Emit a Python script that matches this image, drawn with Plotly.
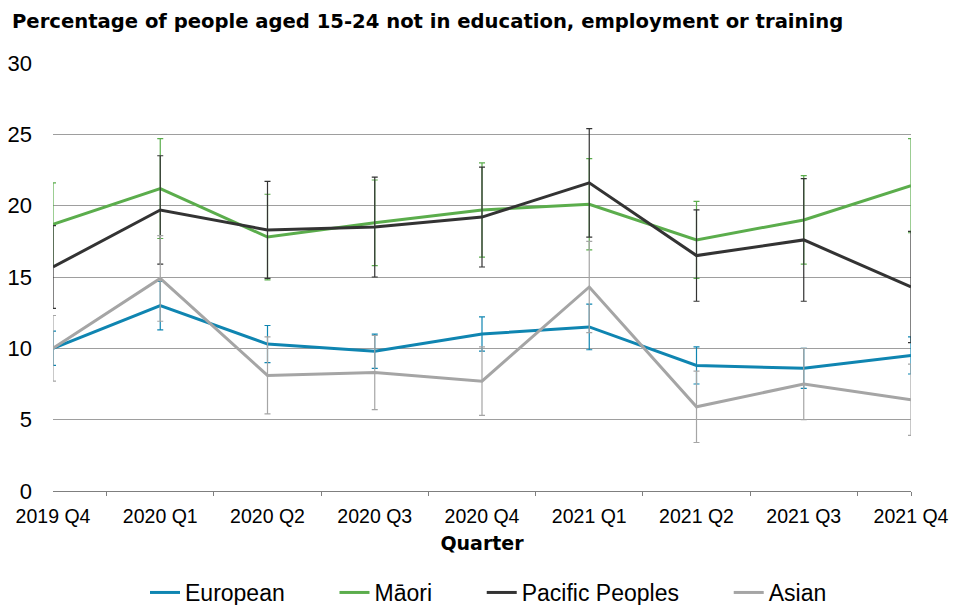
import plotly.graph_objects as go

quarters = ["2019 Q4", "2020 Q1", "2020 Q2", "2020 Q3", "2020 Q4",
            "2021 Q1", "2021 Q2", "2021 Q3", "2021 Q4"]

european = [10.0, 13.0, 10.3, 9.8, 11.0, 11.5, 8.8, 8.6, 9.5]
european_err = [1.2, 1.7, 1.3, 1.2, 1.2, 1.6, 1.3, 1.4, 1.3]

maori = [18.7, 21.2, 17.8, 18.8, 19.7, 20.1, 17.6, 19.0, 21.4]
maori_err = [2.9, 3.5, 3.0, 3.0, 3.3, 3.2, 2.7, 3.1, 3.3]

pacific = [15.7, 19.7, 18.3, 18.5, 19.2, 21.6, 16.5, 17.6, 14.3]
pacific_err = [2.9, 3.8, 3.4, 3.5, 3.5, 3.8, 3.2, 4.3, 3.9]

asian = [10.0, 14.9, 8.1, 8.3, 7.7, 14.3, 5.9, 7.5, 6.4]
asian_err = [2.3, 3.0, 2.7, 2.6, 2.4, 3.2, 2.5, 2.5, 2.5]

series = [
    ("European", european, european_err, "#0F85B1"),
    ("Māori", maori, maori_err, "#5BAD4C"),
    ("Pacific Peoples", pacific, pacific_err, "#333333"),
    ("Asian", asian, asian_err, "#A5A5A5"),
]

FONT = "Liberation Sans, Arial, sans-serif"
BOLD_FONT = "DejaVu Sans, Liberation Sans, sans-serif"
PAD = "\u00a0" * 7
x_idx = list(range(len(quarters)))

fig = go.Figure()
for name, vals, errs, color in series:
    fig.add_trace(go.Scatter(
        x=x_idx, y=vals, name=name + PAD, mode="lines",
        line=dict(color=color, width=3),
        error_y=dict(type="data", array=errs, visible=True,
                     color=color, thickness=1.2, width=3),
        cliponaxis=False,
    ))

fig.update_layout(
    width=954, height=605,
    margin=dict(l=53, r=43, t=63, b=114, autoexpand=False),
    paper_bgcolor="white", plot_bgcolor="white",
    font=dict(family=FONT, color="#000000", size=20),
    title=dict(
        text="<b>Percentage of people aged 15-24 not in education, employment or training</b>",
        x=12 / 954, xanchor="left", y=1 - 21 / 605, yanchor="middle",
        font=dict(family=BOLD_FONT, size=19.6, color="#000000"),
    ),
    showlegend=True,
    legend=dict(orientation="h", x=(145 - 53) / 858, xanchor="left",
                y=(491 - 571) / 428, yanchor="top",
                font=dict(family=FONT, size=23, color="#000000")),
    xaxis=dict(
        range=[0, 8], tickmode="array", tickvals=x_idx, ticktext=quarters,
        ticks="", showgrid=False, zeroline=False,
        showline=True, linecolor="#7F7F7F", linewidth=1,
        tickfont=dict(family=FONT, size=19.5),
        ticklabelstandoff=8,
        title=dict(text="<b>Quarter</b>", font=dict(family=BOLD_FONT, size=19), standoff=10),
        minor=dict(tickvals=[0.5, 1.5, 2.5, 3.5, 4.5, 5.5, 6.5, 7.5, 8],
                   ticks="outside", ticklen=4, tickcolor="#7F7F7F", showgrid=False),
    ),
    yaxis=dict(
        range=[0, 30], tickvals=[0, 5, 10, 15, 20, 25, 30],
        showgrid=True, gridcolor="#9E9E9E", gridwidth=1,
        zeroline=False, showline=False, ticks="",
        tickfont=dict(family=FONT, size=22),
        ticklabelstandoff=20,
    ),
)

fig.write_html("out.html",
               config={"displayModeBar": False},
               post_script="document.body.style.margin='0';document.body.style.overflow='hidden';")
